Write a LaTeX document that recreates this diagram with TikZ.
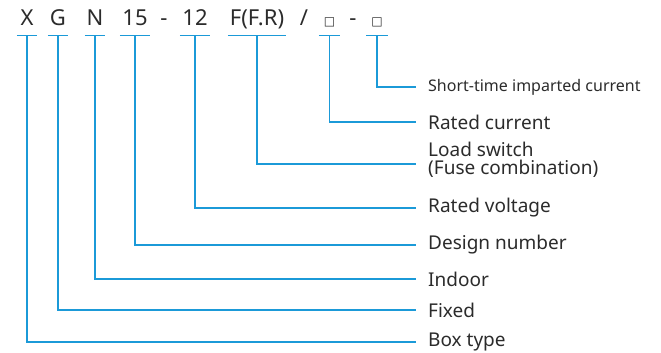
\documentclass[tikz,border=0pt]{standalone}
\usepackage{fontspec}
\setmainfont{Noto Sans}
\newfontfamily\boxfont{DejaVu Sans}
\usepackage{tikz}

\definecolor{leadblue}{HTML}{1B9AD8}
\definecolor{textgrey}{HTML}{2B2B2B}

\tikzset{
  code/.style={anchor=base, inner sep=0pt, text depth=9pt, text=textgrey,
    font=\fontsize{22}{24}\selectfont},
  uline/.style={draw=leadblue, line width=1.1pt},
  lead/.style={draw=leadblue, line width=1.1pt, shorten >=12pt},
  label/.style={anchor=west, inner sep=0pt, text=textgrey, align=left,
    font=\fontsize{19}{18}\selectfont}
}

\begin{document}
\begin{tikzpicture}[x=1pt, y=-1pt]
      \useasboundingbox (0,0) rectangle (661,353);

      % Model code
      \node[code, minimum width=20pt] (cX) at (27,26) {X};
      \node[code, minimum width=20pt] (cG) at (58,26) {G};
      \node[code, minimum width=20pt] (cN) at (95,26) {N};
      \node[code, minimum width=30pt] (c15) at (135,26) {15};
      \node[code] (cdashA) at (164,26) {-};
      \node[code, minimum width=30pt] (c12) at (195,26) {12};
      \node[code, minimum width=58pt] (cF) at (257,26) {F(F.R)};
      \node[code] (cslash) at (304,26) {/};
      \node[code, minimum width=21pt] (cboxA) at (329.5,26) {\boxfont\fontsize{12}{12}\selectfont □};
      \node[code] (cdashB) at (353,26) {-};
      \node[code, minimum width=21pt] (cboxB) at (377,26) {\boxfont\fontsize{12}{12}\selectfont □};

      % Underlines
      \foreach \c in {cX,cG,cN,c15,c12,cF,cboxA,cboxB}
        \draw[uline] (\c.south west) -- (\c.south east);

      % Meanings
      \node[label, font=\fontsize{16}{18}\selectfont] (lShort) at (428,87) {Short-time imparted current};
      \node[label] (lCurrent) at (428,122) {Rated current};
      \node[label] (lLoad) at (428,160) {Load switch\\(Fuse combination)};
      \node[label] (lVoltage) at (428,208) {Rated voltage};
      \node[label] (lDesign) at (428,245) {Design number};
      \node[label] (lIndoor) at (428,279) {Indoor};
      \node[label] (lFixed) at (428,310) {Fixed};
      \node[label] (lBox) at (428,342) {Box type};

      % Leaders
      \draw[lead] (cboxB.south) |- (lShort.west);
      \draw[lead] (cboxA.south) |- (lCurrent.west);
      \draw[lead] (cF.south) |- ([yshift=-4pt]lLoad.west);
      \draw[lead] (c12.south) |- (lVoltage.west);
      \draw[lead] (c15.south) |- (lDesign.west);
      \draw[lead] (cN.south) |- (lIndoor.west);
      \draw[lead] (cG.south) |- (lFixed.west);
      \draw[lead] (cX.south) |- (lBox.west);
    \end{tikzpicture}
\end{document}
